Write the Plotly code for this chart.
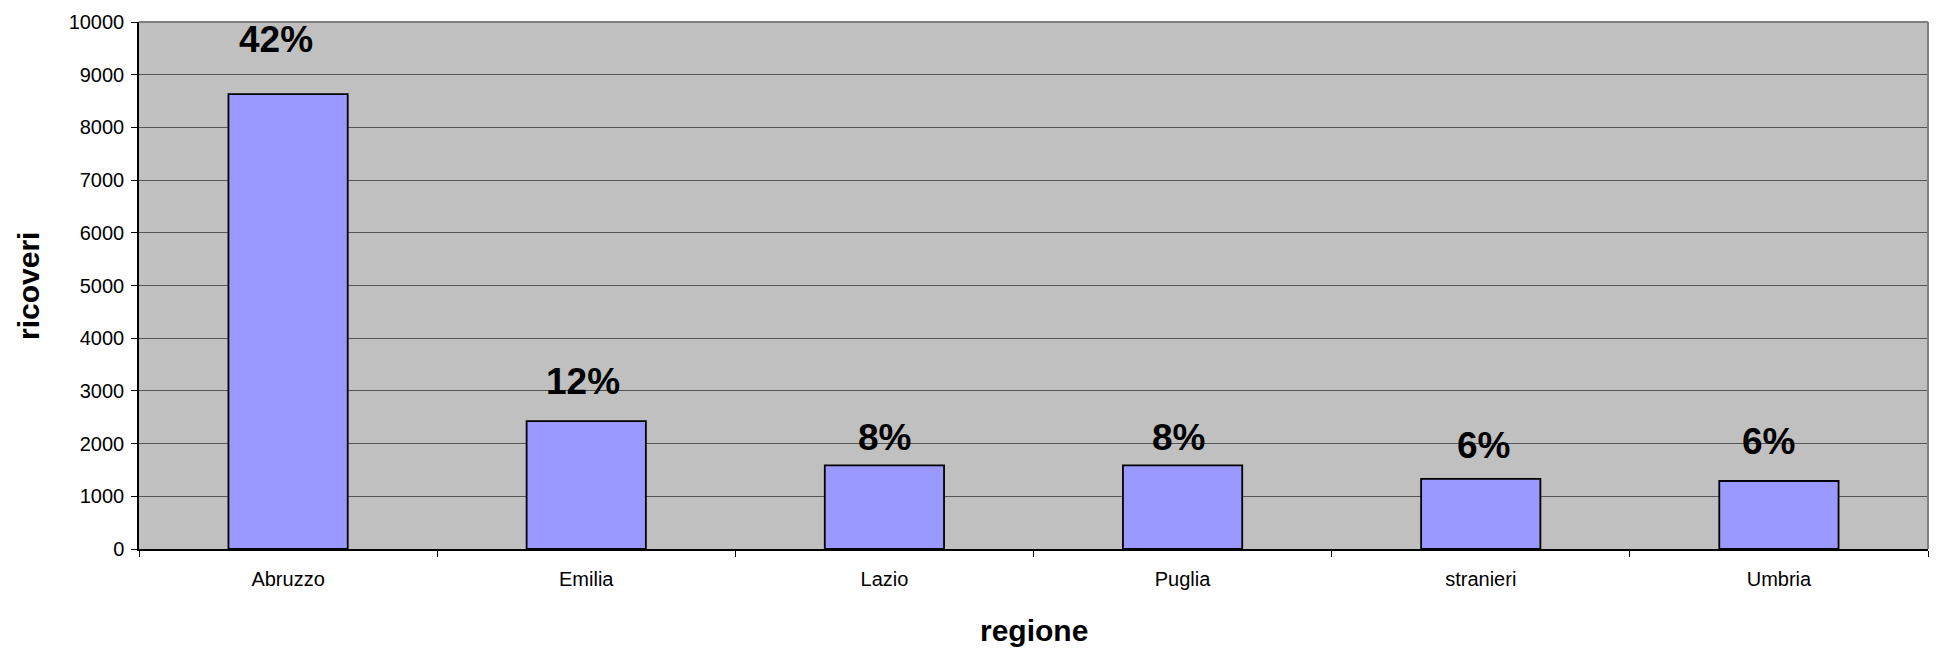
import plotly.graph_objects as go

categories = ["Abruzzo", "Emilia", "Lazio", "Puglia", "stranieri", "Umbria"]
ricoveri = [8630, 2425, 1585, 1585, 1330, 1290]
percent_labels = ["42%", "12%", "8%", "8%", "6%", "6%"]
y_ticks = list(range(0, 10001, 1000))

# label offsets (pixels) relative to bar tops
label_yshift = [55, 40, 28, 28, 33, 40]
label_xshift = [-12, -3, 0, -4, 3, -10]

FONT = "Liberation Sans, Arial, sans-serif"

fig = go.Figure()
fig.add_trace(go.Bar(
    x=categories,
    y=ricoveri,
    width=0.4,
    marker=dict(color="#9999ff", line=dict(color="black", width=1.8)),
    hoverinfo="x+y",
))

annotations = []
for c, v, t, ys, xs in zip(categories, ricoveri, percent_labels, label_yshift, label_xshift):
    annotations.append(dict(
        x=c, y=v, xref="x", yref="y", text=t, showarrow=False,
        yanchor="middle", xanchor="center", yshift=ys, xshift=xs,
        font=dict(family=FONT, size=37, color="black", weight="bold"),
    ))

annotations.append(dict(
    x=-0.0618, y=0.5, xref="paper", yref="paper", text="ricoveri", showarrow=False,
    textangle=-90, xanchor="center", yanchor="middle",
    font=dict(family=FONT, size=30, color="black", weight="bold"),
))
annotations.append(dict(
    x=0.5, y=-0.154, xref="paper", yref="paper", text="regione", showarrow=False,
    xanchor="center", yanchor="middle",
    font=dict(family=FONT, size=30, color="black", weight="bold"),
))

shapes = [
    dict(type="line", xref="x domain", yref="y domain", x0=0, x1=1, y0=1, y1=1,
         line=dict(color="#808080", width=2), layer="above"),
    dict(type="line", xref="x domain", yref="y domain", x0=1, x1=1, y0=0, y1=1,
         line=dict(color="#808080", width=2), layer="above"),
]

fig.update_layout(
    width=1941, height=654,
    margin=dict(l=139, r=13, t=22, b=105),
    paper_bgcolor="white",
    plot_bgcolor="#c0c0c0",
    showlegend=False,
    bargap=0.6,
    annotations=annotations,
    shapes=shapes,
    font=dict(family=FONT, color="black"),
)

fig.update_xaxes(
    type="category",
    tickson="boundaries",
    ticks="outside", ticklen=6, tickcolor="black", tickwidth=1,
    showline=True, linecolor="black", linewidth=1.5,
    showgrid=False,
    tickfont=dict(family=FONT, size=20, color="black"),
    ticklabelstandoff=11,
)

fig.update_yaxes(
    range=[0, 10000],
    tickvals=y_ticks,
    ticktext=[str(v) for v in y_ticks],
    ticks="outside", ticklen=6, tickcolor="black", tickwidth=1,
    showline=True, linecolor="black", linewidth=1.5,
    showgrid=True, gridcolor="#555555", gridwidth=1.4,
    zeroline=False,
    tickfont=dict(family=FONT, size=20, color="black"),
    ticklabelstandoff=3,
)

fig.write_html("out.html")
